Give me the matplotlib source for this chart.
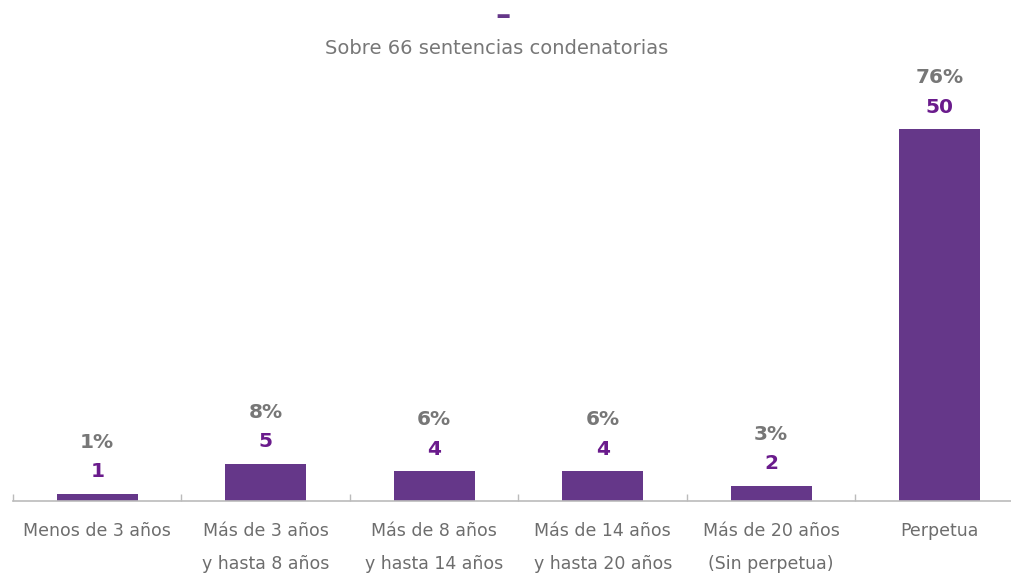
import matplotlib.pyplot as plt
import numpy as np

categories = ["Menos de 3 años", "Más de 3 años\ny hasta 8 años", "Más de 8 años\ny hasta 14 años",
              "Más de 14 años\ny hasta 20 años", "Más de 20 años\n(Sin perpetua)", "Perpetua"]
counts = [1, 5, 4, 4, 2, 50]
percents = ["1%", "8%", "6%", "6%", "3%", "76%"]

bar_color = "#653789"
count_color = "#6a1b8c"
gray = "#777777"

plt.rcParams['font.family'] = ['DejaVu Sans']

fig = plt.figure(figsize=(10.12, 5.73), dpi=100)
ax = fig.add_axes([13 / 1012, 72 / 573, 1011 / 1012, 446 / 573])

x = np.arange(len(categories))
ax.bar(x, counts, width=0.48, color=bar_color, zorder=2)
ax.set_xlim(-0.5, 5.5)
ax.set_ylim(0, 60)

for xi, c, p in zip(x, counts, percents):
    ax.annotate(str(c), (xi, c), xytext=(0, 16), textcoords="offset points",
                ha="center", va="center", fontsize=14.5, fontweight="bold", color=count_color)
    ax.annotate(p, (xi, c), xytext=(0, 37), textcoords="offset points",
                ha="center", va="center", fontsize=14.5, fontweight="bold", color=gray)

for s in ["top", "right", "left"]:
    ax.spines[s].set_visible(False)
ax.spines["bottom"].set_color("#bbbbbb")
ax.spines["bottom"].set_linewidth(1.2)
ax.set_yticks([])
ax.set_xticks(x)
ax.set_xticklabels(categories, fontsize=12.5, color="#6d6d6d", linespacing=2.1)
ax.set_xticks(np.arange(-0.5, 5.6, 1), minor=True)
ax.tick_params(axis="x", which="major", length=0, pad=15)
ax.tick_params(axis="x", which="minor", direction="in", length=5, color="#bbbbbb", width=1)

fig.text(503 / 1012, 1 - 16 / 573, "–", ha="center", va="center", fontsize=22,
         fontweight="bold", color=bar_color)
fig.text(497 / 1012, 1 - 49 / 573, "Sobre 66 sentencias condenatorias", ha="center", va="center",
         fontsize=14, color=gray)

fig.savefig("out.png", dpi=100)
